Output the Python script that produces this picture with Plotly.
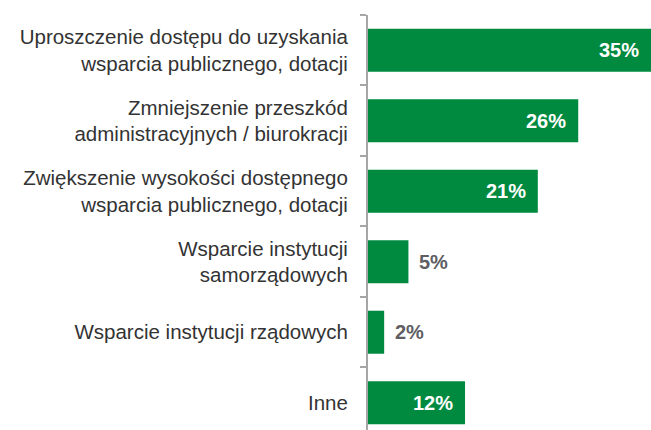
import plotly.graph_objects as go

categories = [
    "Uproszczenie dostępu do uzyskania<br>wsparcia publicznego, dotacji",
    "Zmniejszenie przeszkód<br>administracyjnych / biurokracji",
    "Zwiększenie wysokości dostępnego<br>wsparcia publicznego, dotacji",
    "Wsparcie instytucji<br>samorządowych",
    "Wsparcie instytucji rządowych",
    "Inne",
]
values = [35, 26, 21, 5, 2, 12]

GREEN = "#008A3F"
INSIDE_MIN = 10  # values below this get their label outside the bar

fig = go.Figure(
    go.Bar(
        x=values,
        y=categories,
        orientation="h",
        marker=dict(color=GREEN, line=dict(width=0)),
        hoverinfo="skip",
    )
)

for cat, v in zip(categories, values):
    inside = v >= INSIDE_MIN
    fig.add_annotation(
        x=v, y=cat, xref="x", yref="y",
        text=f"<b>{v}%</b>",
        showarrow=False,
        xanchor="right" if inside else "left",
        xshift=-10 if inside else 9,
        font=dict(family="Liberation Sans, Arial, sans-serif", size=20,
                  color="white" if inside else "#5E5E63"),
    )

fig.update_layout(
    width=651, height=430,
    margin=dict(l=368, r=0, t=15, b=0),
    paper_bgcolor="white", plot_bgcolor="white",
    bargap=0.39,
    showlegend=False,
    xaxis=dict(range=[0, 35], visible=False, fixedrange=True),
    yaxis=dict(
        type="category",
        categoryorder="array",
        categoryarray=categories,
        range=[5.387, -0.5],
        showline=True, linecolor="#A6A6A6", linewidth=2,
        ticks="outside", ticklen=6, tickcolor="#A6A6A6", tickwidth=1.5,
        tickson="boundaries",
        ticklabelstandoff=14,
        showgrid=False, zeroline=False,
        tickfont=dict(family="Liberation Sans, Arial, sans-serif", size=20.5, color="#333333"),
    ),
)

fig.write_html("out.html")
